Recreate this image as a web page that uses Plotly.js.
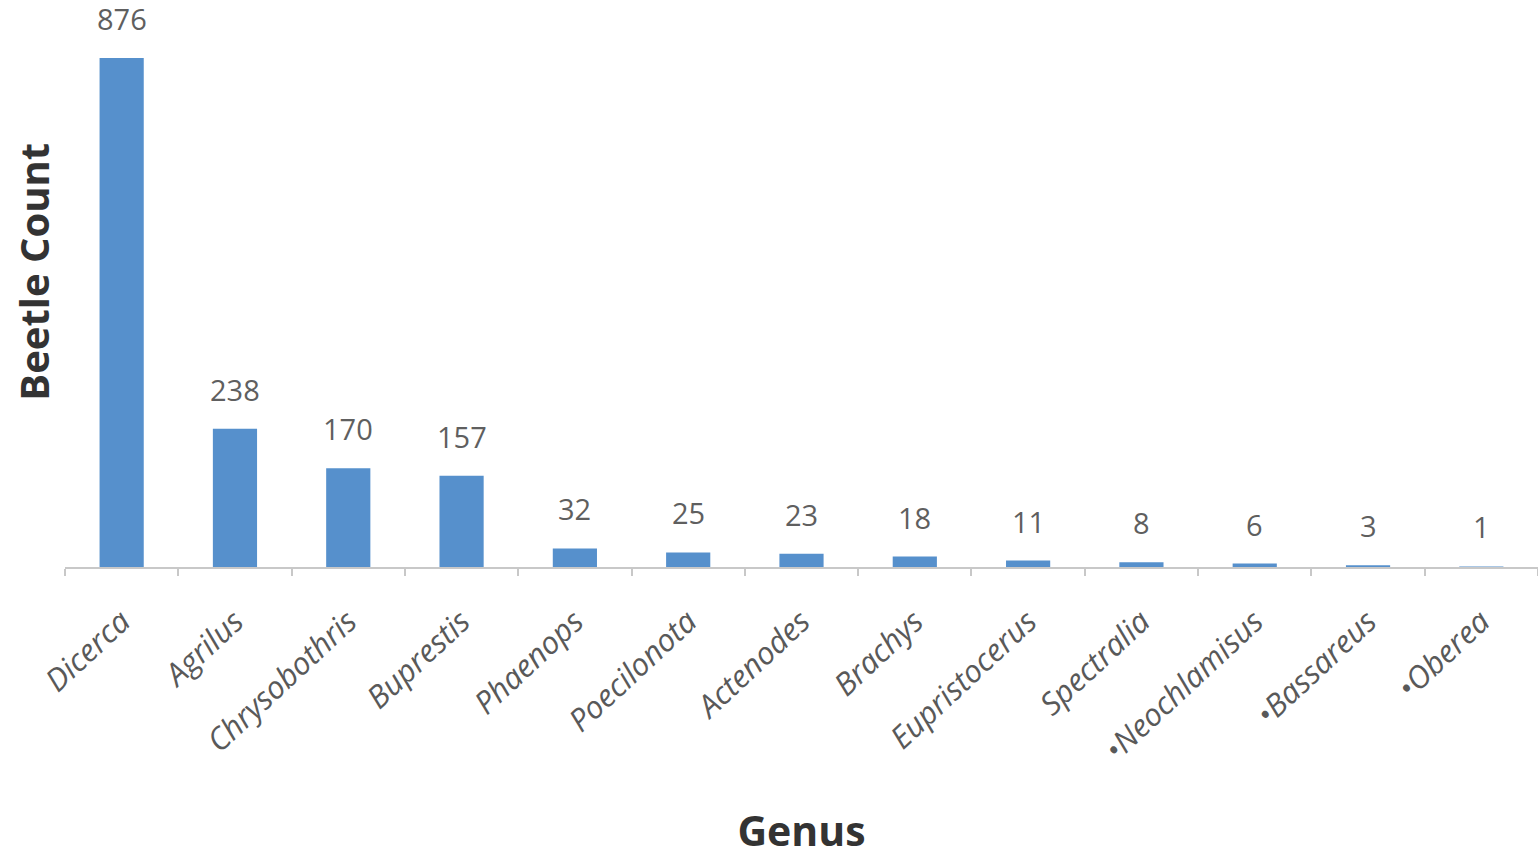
<!DOCTYPE html>
<html>
<head>
<meta charset="utf-8">
<script src="https://cdn.plot.ly/plotly-3.0.1.min.js"></script>
<style>html,body{margin:0;padding:0;background:#fff;}#chart{width:1538px;height:858px;}</style>
</head>
<body>
<div id="chart"></div>
<script>
const genera = ["Dicerca","Agrilus","Chrysobothris","Buprestis","Phaenops","Poecilonota","Actenodes","Brachys","Eupristocerus","Spectralia","•Neochlamisus","•Bassareus","•Oberea"];
const counts = [876, 238, 170, 157, 32, 25, 23, 18, 11, 8, 6, 3, 1];
const xTitle = "Genus";
const yTitle = "Beetle Count";

const font = "'Open Sans', 'Noto Sans', sans-serif";

const valueLabels = genera.map((g, i) => ({
  x: g, y: counts[i], xref: "x", yref: "y",
  text: String(counts[i]), showarrow: false,
  yanchor: "bottom", yshift: 18,
  font: {family: font, size: 29, color: "#5f5f5f"}
}));

Plotly.newPlot("chart", [{
  type: "bar",
  x: genera,
  y: counts,
  marker: {color: "#5690cc"},
  hoverinfo: "x+y"
}], {
  width: 1538, height: 858,
  margin: {l: 65, r: 0, t: 15, b: 291},
  paper_bgcolor: "#fff", plot_bgcolor: "#fff",
  bargap: 0.61,
  showlegend: false,
  xaxis: {
    type: "category",
    showline: true, linecolor: "#c8c8c8", linewidth: 2,
    ticks: "outside", tickson: "boundaries", ticklen: 7, tickcolor: "#c8c8c8", tickwidth: 2,
    tickangle: -43,
    ticklabelstandoff: 22,
    tickfont: {family: font, size: 31, color: "#595959", style: "italic"},
    showgrid: false, zeroline: false,
    title: {text: xTitle, font: {family: font, size: 41, color: "#333", weight: "bold"}, standoff: 62},
    automargin: false
  },
  yaxis: {
    range: [0, 950],
    showline: false, showticklabels: false, ticks: "", showgrid: false, zeroline: false,
    automargin: false
  },
  annotations: valueLabels.concat([{
    xref: "paper", yref: "paper", x: -0.021, y: 0.535,
    xanchor: "center", yanchor: "middle",
    text: yTitle, textangle: -90, showarrow: false,
    font: {family: font, size: 40, color: "#333", weight: "bold"}
  }])
}, {displayModeBar: false, staticPlot: true});
</script>
</body>
</html>
